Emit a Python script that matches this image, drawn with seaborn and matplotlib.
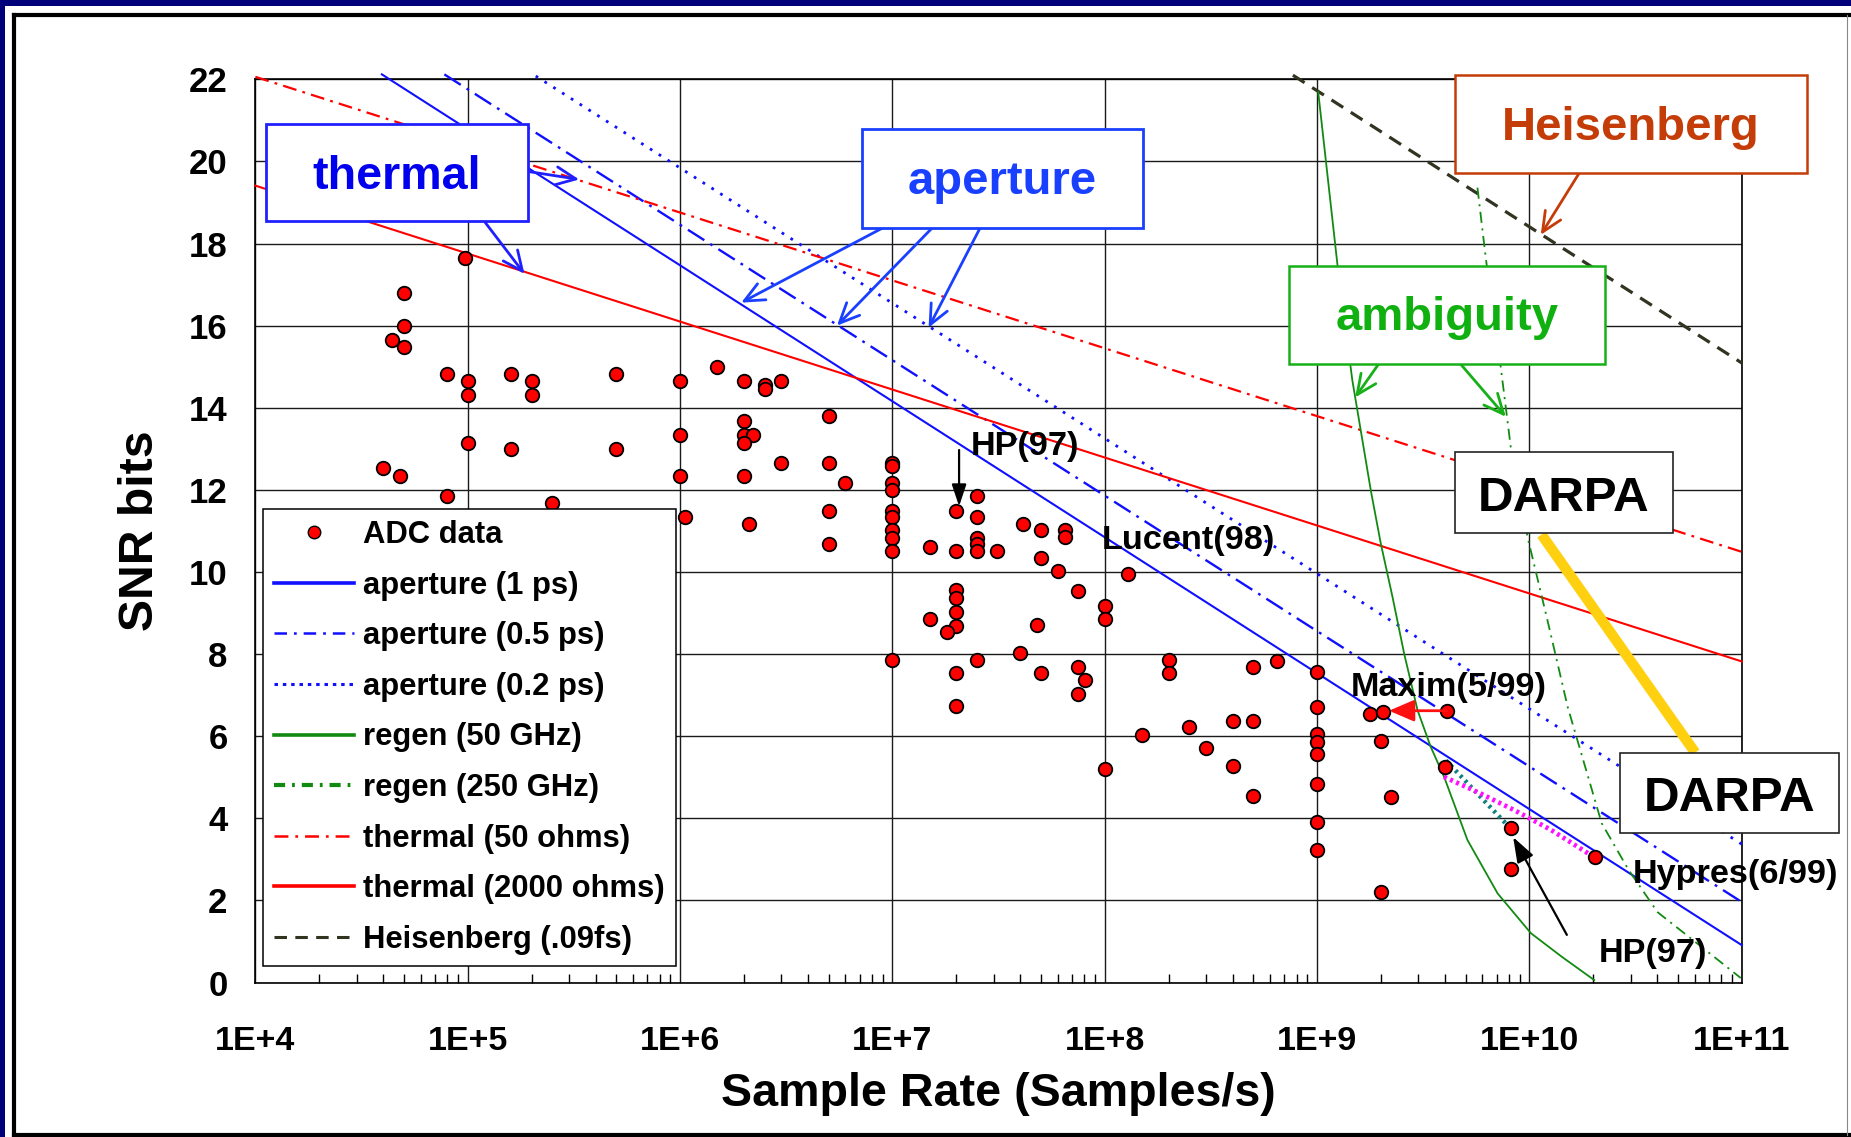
import matplotlib
matplotlib.use("Agg")
import matplotlib.pyplot as plt
from matplotlib.lines import Line2D
from matplotlib.patches import Rectangle
from matplotlib.ticker import FixedLocator, LogLocator, NullFormatter
import seaborn as sns

plt.rcParams["font.family"] = ["Liberation Sans", "DejaVu Sans"]
plt.rcParams["font.weight"] = "bold"
plt.rcParams["lines.scale_dashes"] = False

# ---------------- data ----------------
adc_rate = [
    9.7e4, 5.0e4, 5.0e4, 4.4e4, 5.0e4, 8.0e4, 1.0e5, 1.0e5, 1.6e5, 2.0e5,
    2.0e5, 5.0e5, 1.0e6, 1.0e5, 1.6e5, 5.0e5, 1.0e6, 4.0e4, 4.8e4, 1.0e6,
    8.0e4, 2.5e5, 1.05e6, 1.5e6, 2.0e6, 2.5e6, 2.5e6, 3.0e6, 5.0e6, 2.0e6,
    2.0e6, 2.2e6, 2.0e6, 3.0e6, 5.0e6, 2.0e6, 6.0e6, 2.1e6, 5.0e6, 5.0e6,
    1.0e7, 1.0e7, 1.0e7, 1.0e7, 1.0e7, 1.0e7, 1.0e7, 1.0e7, 1.0e7, 1.0e7,
    1.5e7, 2.0e7, 2.5e7, 2.5e7, 2.5e7, 2.5e7, 2.5e7, 2.0e7, 3.1e7, 4.1e7,
    5.0e7, 5.0e7, 6.5e7, 6.5e7, 6.0e7, 7.5e7, 1.0e8, 1.0e8, 1.28e8, 2.0e7,
    2.0e7, 2.0e7, 2.0e7, 1.5e7, 1.8e7, 2.5e7, 2.0e7, 2.0e7, 4.0e7, 4.8e7,
    5.0e7, 7.5e7, 8.1e7, 7.5e7, 1.0e8, 1.5e8, 2.0e8, 2.0e8, 2.5e8, 3.0e8,
    4.0e8, 4.0e8, 5.0e8, 5.0e8, 5.0e8, 6.5e8, 1.0e9, 1.0e9, 1.0e9, 1.0e9,
    1.0e9, 1.0e9, 1.0e9, 1.0e9, 1.78e9, 2.04e9, 4.07e9, 2.0e9, 2.23e9, 2.0e9,
    4.0e9, 8.2e9, 8.2e9, 2.03e10,
]
adc_bits = [
    17.65, 16.8, 16.0, 15.65, 15.48, 14.82, 14.64, 14.32, 14.82, 14.64,
    14.32, 14.82, 14.64, 13.13, 13.0, 13.0, 13.33, 12.52, 12.33, 12.33,
    11.85, 11.68, 11.35, 15.0, 14.64, 14.55, 14.45, 14.64, 13.81, 13.67,
    13.33, 13.33, 13.14, 12.66, 12.66, 12.33, 12.17, 11.17, 11.48, 10.68,
    12.66, 12.57, 12.17, 12.0, 11.48, 11.35, 11.03, 10.83, 10.51, 7.86,
    10.6, 11.48, 11.85, 11.35, 10.83, 10.68, 10.51, 10.51, 10.51, 11.17,
    11.03, 10.34, 11.03, 10.85, 10.02, 9.54, 9.17, 8.85, 9.94, 9.56,
    9.37, 9.03, 8.68, 8.85, 8.53, 7.86, 7.54, 6.74, 8.02, 8.71,
    7.54, 7.69, 7.37, 7.03, 5.2, 6.03, 7.86, 7.54, 6.22, 5.71,
    6.37, 5.27, 7.69, 6.37, 4.54, 7.82, 7.56, 6.71, 6.05, 5.85,
    5.57, 4.83, 3.9, 3.23, 6.53, 6.6, 6.62, 5.88, 4.51, 2.2,
    5.25, 3.77, 2.77, 3.05,
]

aperture_1ps_rate = [3.94e4, 1e11]
aperture_1ps_bits = [22.12, 0.91]
aperture_05ps_rate = [7.76e4, 1e11]
aperture_05ps_bits = [22.12, 1.96]
aperture_02ps_rate = [2.09e5, 1e11]
aperture_02ps_bits = [22.08, 3.37]

thermal_50_rate = [1e4, 1e11]
thermal_50_bits = [22.06, 10.49]
thermal_2000_rate = [1e4, 1e11]
thermal_2000_bits = [19.41, 7.82]

heisenberg_rate = [7.69e8, 1e11]
heisenberg_bits = [22.1, 15.09]

regen_50_rate = [1.012e9, 1.250e9, 1.466e9, 1.791e9, 1.995e9, 2.265e9, 2.570e9,
                 2.972e9, 3.428e9, 3.963e9, 5.105e9, 7.079e9, 1.016e10,
                 1.426e10, 2.018e10]
regen_50_bits = [21.69, 17.43, 14.66, 11.98, 10.69, 9.39, 8.01,
                 6.63, 5.74, 5.01, 3.47, 2.17, 1.2,
                 0.62, 0.06]

regen_250_rate = [5.689e9, 6.237e9, 7.328e9, 8.166e9, 9.795e9, 1.216e10,
                  1.514e10, 2.188e10, 2.931e10, 4.018e10, 6.310e10, 9.886e10]
regen_250_bits = [19.36, 17.62, 14.98, 13.04, 10.85, 8.82,
                  6.71, 3.88, 2.74, 1.71, 0.91, 0.11]

darpa_rate = [1.14e10, 6.03e10]
darpa_bits = [10.91, 5.6]

hypres_path_rate = [3.96e9, 5.90e9, 8.47e9, 1.26e10, 1.95e10]
hypres_path_bits = [5.01, 4.60, 4.20, 3.72, 3.10]
hp_path_rate = [4.04e9, 5.69e9, 8.02e9]
hp_path_bits = [5.41, 4.60, 3.79]

x_ticks = [1e4, 1e5, 1e6, 1e7, 1e8, 1e9, 1e10, 1e11]
x_tick_labels = ["1E+4", "1E+5", "1E+6", "1E+7", "1E+8", "1E+9", "1E+10", "1E+11"]
y_ticks = [0, 2, 4, 6, 8, 10, 12, 14, 16, 18, 20, 22]

# ---------------- figure ----------------
W, H = 1851, 1137
fig = plt.figure(figsize=(W / 100, H / 100), dpi=100)
fig.patch.set_facecolor("white")

navy = "#00007a"
fig.add_artist(Rectangle((0, 0), 5 / W, 1, transform=fig.transFigure,
                         facecolor=navy, edgecolor="none"))
fig.add_artist(Rectangle((0, 1 - 6 / H), 1, 6 / H, transform=fig.transFigure,
                         facecolor=navy, edgecolor="none"))
fx0, fx1 = 14 / W, 1847 / W
fy0, fy1 = 1 - 1135 / H, 1 - 15 / H
for xs, ys, c, lw in [([fx0, fx0], [fy0, fy1], "black", 3),
                      ([fx0, 1], [fy1, fy1], "black", 3),
                      ([fx0, 1], [fy0, fy0], "black", 3),
                      ([fx1, fx1], [fy0, fy1], "#888888", 0.8)]:
    fig.add_artist(Line2D(xs, ys, transform=fig.transFigure, color=c, lw=lw))

ax_l, ax_r, ax_t, ax_b = 255.4, 1741.8, 79.3, 982.5
ax = fig.add_axes([ax_l / W, 1 - ax_b / H, (ax_r - ax_l) / W, (ax_b - ax_t) / H])
ax.set_xscale("log")
ax.set_xlim(1e4, 1e11)
ax.set_ylim(0, 22)
ax.set_facecolor("white")


def axfrac(px, py):
    return ((px - ax_l) / (ax_r - ax_l), (ax_b - py) / (ax_b - ax_t))


blue = "#1010ff"
red = "#ff0000"
green = "#128a12"
olive = "#333322"

line_specs = [
    (aperture_1ps_rate, aperture_1ps_bits, blue, 1.5, "-"),
    (aperture_05ps_rate, aperture_05ps_bits, blue, 1.7, (0, (14, 5, 2, 5))),
    (aperture_02ps_rate, aperture_02ps_bits, blue, 2.0, (0, (2, 5.5))),
    (thermal_50_rate, thermal_50_bits, red, 1.6, (0, (10, 4.5, 2, 4.5))),
    (thermal_2000_rate, thermal_2000_bits, red, 1.5, "-"),
    (heisenberg_rate, heisenberg_bits, olive, 2.3, (0, (10, 6.5))),
    (regen_50_rate, regen_50_bits, green, 1.3, "-"),
    (regen_250_rate, regen_250_bits, green, 1.3, (0, (8, 4, 1.5, 4))),
]
for rx, by, col, lw, ls in line_specs:
    sns.lineplot(x=rx, y=by, ax=ax, color=col, lw=lw, linestyle=ls,
                 sort=False, estimator=None, legend=False, clip_on=False, zorder=3)

sns.lineplot(x=darpa_rate, y=darpa_bits, ax=ax, color="#ffd010", lw=7.5,
             sort=False, estimator=None, legend=False, zorder=3,
             solid_capstyle="butt")
sns.lineplot(x=hp_path_rate, y=hp_path_bits, ax=ax, color="#108080", lw=3.2,
             linestyle=(0, (2, 3)), sort=False, estimator=None, legend=False,
             zorder=3)
sns.lineplot(x=hypres_path_rate, y=hypres_path_bits, ax=ax, color="#ff10ff",
             lw=3.4, linestyle=(0, (2.2, 2.6)), sort=False, estimator=None,
             legend=False, zorder=3)

sns.scatterplot(x=adc_rate, y=adc_bits, ax=ax, s=95, color="#ff0000",
                edgecolor="black", linewidth=1.3, zorder=5, legend=False)

# ---------------- axes styling ----------------
ax.xaxis.set_major_locator(FixedLocator(x_ticks))
ax.set_xticklabels(x_tick_labels)
ax.xaxis.set_minor_locator(LogLocator(base=10, subs=range(2, 10), numticks=20))
ax.xaxis.set_minor_formatter(NullFormatter())
ax.set_yticks(y_ticks)
ax.tick_params(axis="x", which="major", direction="in", length=0, pad=31,
               labelsize=24.5)
ax.tick_params(axis="x", which="minor", direction="in", length=6.5, width=1,
               color="black", bottom=True, top=False)
ax.tick_params(axis="y", which="major", length=0, pad=20, labelsize=25)
for lab in ax.get_xticklabels() + ax.get_yticklabels():
    lab.set_fontweight("bold")
ax.grid(True, which="major", color="#1a1a1a", lw=1.0)
ax.set_axisbelow(True)
for sp in ax.spines.values():
    sp.set_color("black")
    sp.set_linewidth(1.2)
ax.set_xlabel("")
ax.set_ylabel("")

fig.text(998.6 / W, 1 - 1094 / H, "Sample Rate (Samples/s)", ha="center",
         va="center", fontsize=33.6, fontweight="bold")
fig.text(140.6 / W, 1 - 531 / H, "SNR bits", ha="center", va="center",
         rotation=90, fontsize=34.7, fontweight="bold")

# ---------------- legend ----------------
handles = [
    Line2D([], [], ls="none", marker="o", markersize=9, markerfacecolor="#ff0000",
           markeredgecolor="black", markeredgewidth=1.0),
    Line2D([], [], color=blue, lw=2.6),
    Line2D([], [], color=blue, lw=1.8, ls=(0, (9, 5, 2, 5))),
    Line2D([], [], color=blue, lw=2.2, ls=(0, (2.5, 3.5))),
    Line2D([], [], color=green, lw=2.6),
    Line2D([], [], color=green, lw=3.0, ls=(0, (8, 5, 2, 5))),
    Line2D([], [], color=red, lw=1.8, ls=(0, (10, 5, 2, 5))),
    Line2D([], [], color=red, lw=2.6),
    Line2D([], [], color=olive, lw=2.2, ls=(0, (9, 6))),
]
labels = ["ADC data", "aperture (1 ps)", "aperture (0.5 ps)", "aperture (0.2 ps)",
          "regen (50 GHz)", "regen (250 GHz)", "thermal (50 ohms)",
          "thermal (2000 ohms)", "Heisenberg (.09fs)"]
lx, ly = axfrac(262.5, 508.9)
leg = ax.legend(handles, labels, loc="upper left", bbox_to_anchor=(lx, ly),
                borderaxespad=0, handlelength=2.6,
                handletextpad=0.3, labelspacing=0.665, borderpad=0.36,
                frameon=True, fancybox=False, framealpha=1, edgecolor="black",
                prop={"weight": "bold", "size": 22.3})
leg.get_frame().set_linewidth(1.1)
leg.set_zorder(20)

# ---------------- callout boxes ----------------
boxes = [
    ((265.6, 124.3, 528.1, 221.4), "thermal", "#0000ee", "#2020ff", 2.0, 0.8790, 33.6),
    ((862.0, 128.6, 1143.3, 227.5), "aperture", "#1a40ff", "#1a40ff", 2.0, 0.8731, 34),
    ((1454.5, 75.0, 1807.0, 173.2), "Heisenberg", "#c43c08", "#c43c08", 1.8, 0.9328, 34),
    ((1289.3, 266.0, 1604.8, 364.2), "ambiguity", "#10b010", "#18b018", 1.8, 0.7221, 34),
    ((1454.5, 451.6, 1673.3, 532.6), "DARPA", "black", "#222222", 1.2, 0.5217, 35.6),
    ((1620.2, 752.5, 1838.6, 833.3), "DARPA", "black", "#222222", 1.2, 0.1895, 35.6),
]
for (px0, py0, px1, py1), txt, tcol, ecol, elw, base_y, fs in boxes:
    x0, y1 = axfrac(px0, py0)
    x1, y0 = axfrac(px1, py1)
    ax.add_patch(Rectangle((x0, y0), x1 - x0, y1 - y0, transform=ax.transAxes,
                           facecolor="white", edgecolor=ecol, lw=elw,
                           clip_on=False, zorder=8))
    ax.text((x0 + x1) / 2, base_y, txt, transform=ax.transAxes, ha="center",
            va="baseline", fontsize=fs, fontweight="bold", color=tcol, zorder=9,
            clip_on=False)

# callout arrows: (target rate, target bits, start pixel x, start pixel y, colour)
callouts = [
    (3.35e5, 19.56, 528.1, 171.5, "#2020ff"),
    (1.85e5, 17.26, 484.4, 221.4, "#2020ff"),
    (1.94e6, 16.56, 883.5, 227.5, "#1a40ff"),
    (5.48e6, 16.0, 932.6, 227.5, "#1a40ff"),
    (1.48e7, 15.95, 980.3, 227.5, "#1a40ff"),
    (1.13e10, 18.21, 1578.7, 173.9, "#c43c08"),
    (1.51e9, 14.25, 1378.5, 364.2, "#18b018"),
    (7.74e9, 13.78, 1460.7, 364.2, "#18b018"),
]
for tx, ty, spx, spy, col in callouts:
    ax.annotate("", xy=(tx, ty), xycoords="data", xytext=axfrac(spx, spy),
                textcoords="axes fraction", annotation_clip=False, zorder=7,
                arrowprops=dict(arrowstyle="->,head_length=0.55,head_width=0.25",
                                color=col, lw=2.0, mutation_scale=26,
                                shrinkA=0, shrinkB=0))

# device annotations
ax.annotate("", xy=(2.06e7, 11.6), xytext=(2.06e7, 12.97),
            arrowprops=dict(arrowstyle="-|>,head_length=0.6,head_width=0.2",
                            color="black", lw=1.6, mutation_scale=22,
                            shrinkA=0, shrinkB=0), zorder=6)
ax.annotate("", xy=(2.18e9, 6.62), xytext=(4.07e9, 6.62),
            arrowprops=dict(arrowstyle="-|>,head_length=0.7,head_width=0.3",
                            color="#ff1010", lw=2.0, mutation_scale=22,
                            shrinkA=0, shrinkB=0), zorder=6)
ax.annotate("", xy=(8.38e9, 3.54), xytext=(1.5e10, 1.16),
            arrowprops=dict(arrowstyle="-|>,head_length=0.7,head_width=0.25",
                            color="black", lw=1.6, mutation_scale=22,
                            shrinkA=0, shrinkB=0), zorder=6)

point_labels = [
    (2.34e7, 12.85, "HP(97)"),
    (9.66e7, 10.57, "Lucent(98)"),
    (1.445e9, 6.97, "Maxim(5/99)"),
    (3.06e10, 2.42, "Hypres(6/99)"),
    (2.12e10, 0.51, "HP(97)"),
]
for px, py, txt in point_labels:
    ax.text(px, py, txt, ha="left", va="baseline", fontsize=24.7,
            fontweight="bold", color="black", zorder=10, clip_on=False)

fig.savefig("out.png", dpi=100, facecolor=fig.get_facecolor())
